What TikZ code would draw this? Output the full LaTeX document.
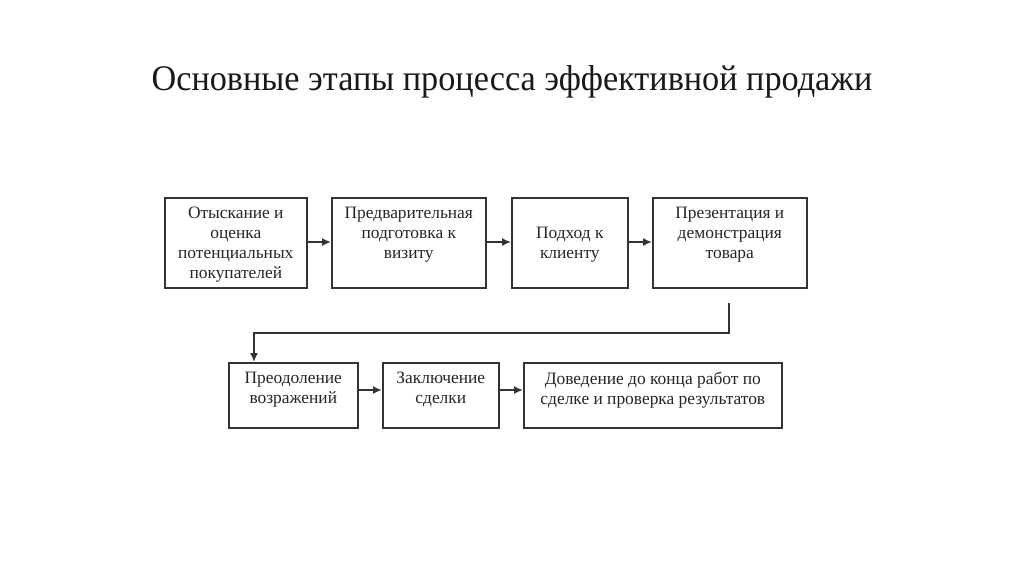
\documentclass[tikz,border=0pt]{standalone}
\usepackage{fontspec}
\usepackage{graphicx}
\setmainfont{Liberation Serif}
\usetikzlibrary{arrows.meta}
\begin{document}
\begin{tikzpicture}[x=1pt,y=-1pt,
  box/.style={draw=black!80, line width=1.6pt, inner sep=0pt, anchor=north west},
  txt/.style={align=center, inner sep=0pt, anchor=north, text=black!85, font=\fontsize{17.4}{20}\selectfont},
  conn/.style={draw=black!80, line width=1.6pt, -{Latex[length=9pt,width=8pt]}}]
\useasboundingbox[fill=white] (0,0) rectangle (1024,574);
\node[anchor=base, inner sep=0pt, text=black!90, font=\fontsize{36}{40}\selectfont] (title) at (512,90) {\scalebox{0.951}[1]{Основные этапы процесса эффективной продажи}};
% row 1
\node[box, minimum width=142pt, minimum height=90pt] (b1) at (164,197) {};
\node[box, minimum width=154pt, minimum height=90pt] (b2) at (331,197) {};
\node[box, minimum width=116pt, minimum height=90pt] (b3) at (511,197) {};
\node[box, minimum width=154pt, minimum height=90pt] (b4) at (652,197) {};
\node[txt] (t1) at (b1.north |- 0,207) {Отыскание и\\оценка\\потенциальных\\покупателей};
\node[txt] (t2) at (b2.north |- 0,207) {Предварительная\\подготовка к\\визиту};
\node[txt] (t3) at (b3.north |- 0,227) {Подход к\\клиенту};
\node[txt] (t4) at (b4.north |- 0,207) {Презентация и\\демонстрация\\товара};
% row 2
\node[box, minimum width=129pt, minimum height=65pt] (b5) at (228,362) {};
\node[box, minimum width=116pt, minimum height=65pt] (b6) at (382,362) {};
\node[box, minimum width=258pt, minimum height=65pt] (b7) at (523,362) {};
\node[txt] (t5) at (b5.north |- 0,372) {Преодоление\\возражений};
\node[txt] (t6) at (b6.north |- 0,372) {Заключение\\сделки};
\node[txt] (t7) at (b7.north |- 0,372) {Доведение до конца работ по\\сделке и проверка результатов};
% connectors
\draw[conn] (b1.east |- 0,242) -- (b2.west |- 0,242);
\draw[conn] (b2.east |- 0,242) -- (b3.west |- 0,242);
\draw[conn] (b3.east |- 0,242) -- (b4.west |- 0,242);
\draw[conn] (b5.east |- 0,390) -- (b6.west |- 0,390);
\draw[conn] (b6.east |- 0,390) -- (b7.west |- 0,390);
\coordinate (c1) at (729,303);
\coordinate (c2) at (729,333);
\coordinate (c3) at (254,333);
\draw[conn] (c1) -- (c2) -- (c3) -- (c3 |- b5.north);
\end{tikzpicture}
\end{document}
